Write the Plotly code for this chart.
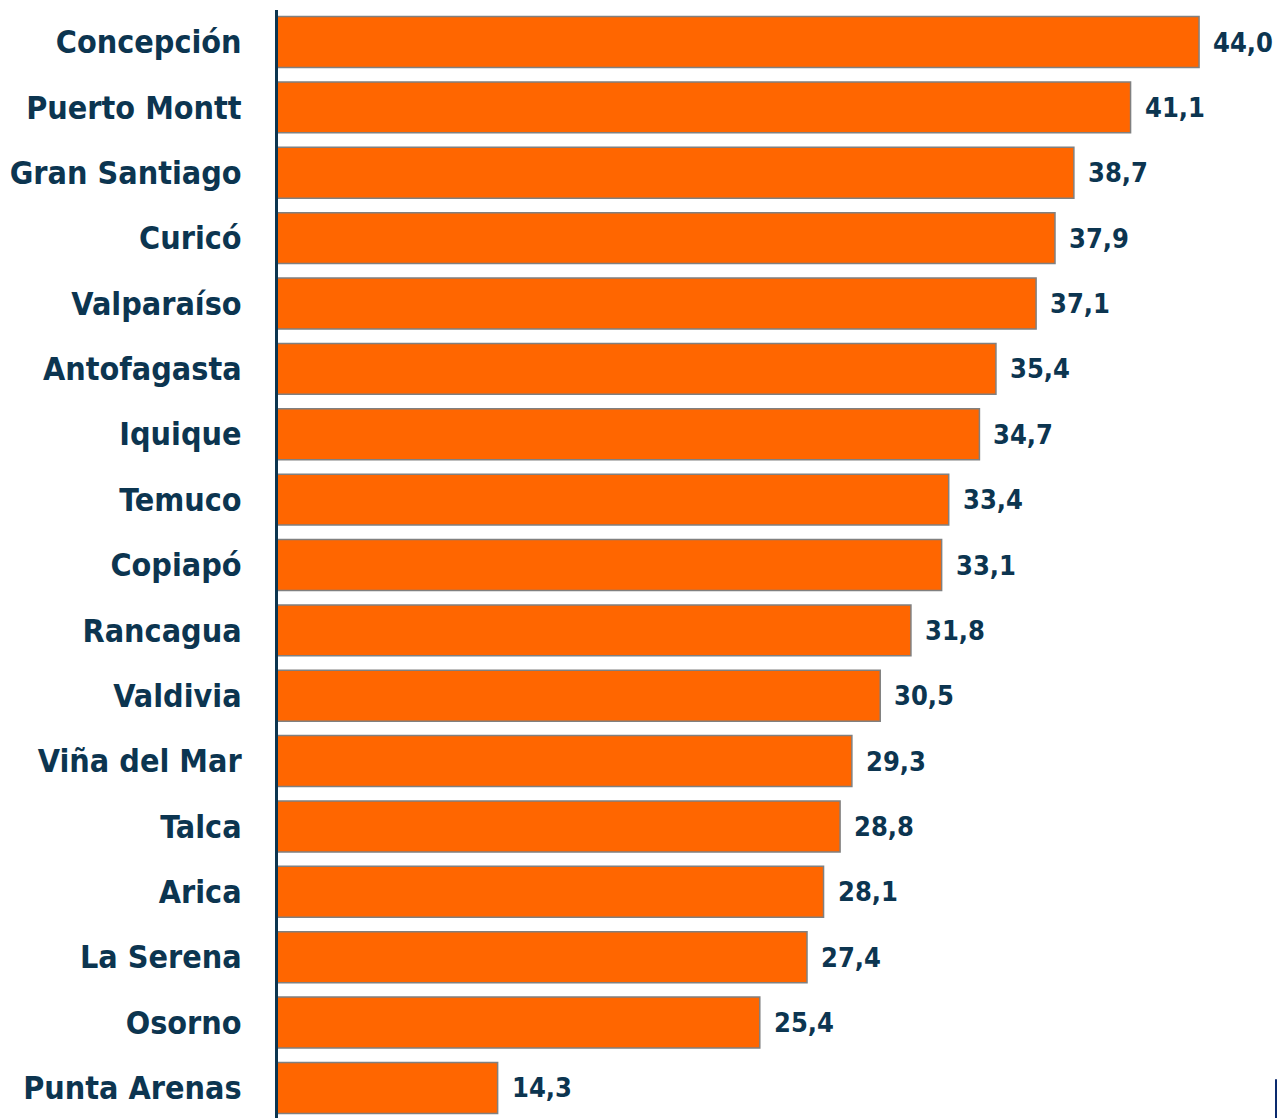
import plotly.graph_objects as go

# data
ciudades = ['Concepción', 'Puerto Montt', 'Gran Santiago', 'Curicó', 'Valparaíso',
            'Antofagasta', 'Iquique', 'Temuco', 'Copiapó', 'Rancagua', 'Valdivia',
            'Viña del Mar', 'Talca', 'Arica', 'La Serena', 'Osorno', 'Punta Arenas']
valores = [44.0, 41.1, 38.7, 37.9, 37.1, 35.4, 34.7, 33.4, 33.1, 31.8, 30.5,
           29.3, 28.8, 28.1, 27.4, 25.4, 14.3]
etiquetas = [f'{v:.1f}'.replace('.', ',') for v in valores]

navy = '#0c3550'
font_family = 'DejaVu Sans Condensed, DejaVu Sans, sans-serif'

fig = go.Figure()
fig.add_trace(go.Bar(
    x=valores,
    y=ciudades,
    orientation='h',
    marker=dict(color='#ff6600', line=dict(color='#808080', width=1.5)),
    hoverinfo='x+y',
))

for c, v, t in zip(ciudades, valores, etiquetas):
    fig.add_annotation(x=v, y=c, text=t, showarrow=False, xanchor='left',
                       xshift=12, font=dict(family=font_family, size=27,
                                            color=navy, weight='bold'))

# small decoration at the bottom right corner of the original slide
fig.add_shape(type='rect', xref='paper', yref='paper', x0=0.998, x1=1.0,
              y0=0.0, y1=0.035, fillcolor='#0a2a6e', line_width=0)

fig.update_layout(
    width=1277, height=1118,
    margin=dict(l=278, r=0, t=10, b=0),
    paper_bgcolor='white', plot_bgcolor='white',
    bargap=0.22,
    showlegend=False,
    xaxis=dict(range=[5, 47.3], visible=False, showgrid=False),
    yaxis=dict(
        type='category',
        range=[16.459, -0.4895],
        showline=True, linecolor=navy, linewidth=3,
        showgrid=False, ticks='', ticklabelstandoff=27,
        tickfont=dict(family=font_family, size=32, color=navy, weight='bold'),
    ),
)

# drop the default body margin so the figure fills the window exactly
fig.write_html('out.html', config={'displayModeBar': False},
               post_script="document.body.style.margin='0';document.body.style.overflow='hidden';")
